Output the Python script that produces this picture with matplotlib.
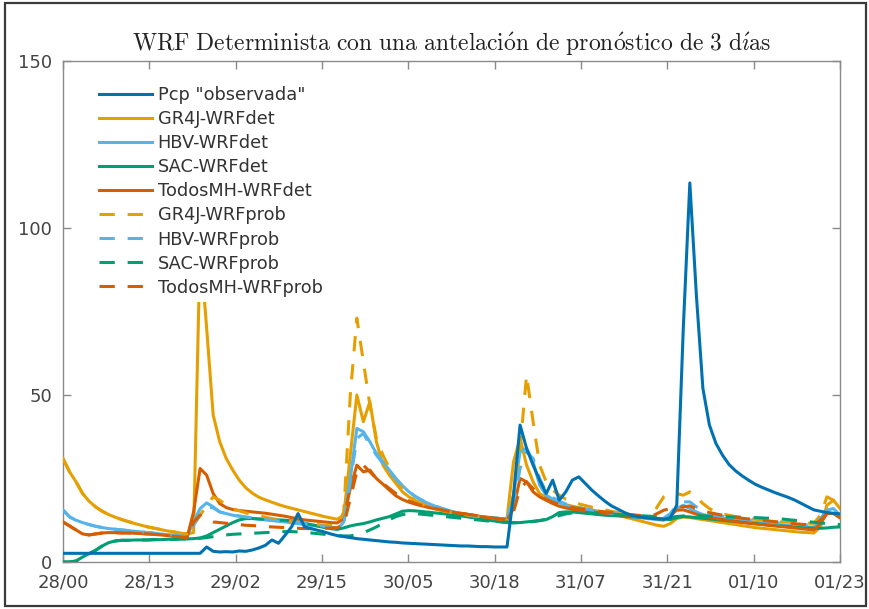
import numpy as np
import matplotlib
matplotlib.use("Agg")
import matplotlib.pyplot as plt
from matplotlib.patches import Rectangle

plt.rcParams["mathtext.fontset"] = "cm"

# ---- data: hourly discharge (m3/s), 28/00 .. 01/23 ----
tick_labels = ["28/00", "28/13", "29/02", "29/15", "30/05",
               "30/18", "31/07", "31/21", "01/10", "01/23"]

pcp_obs = [
    2.6, 2.6, 2.6, 2.6, 2.6, 2.6, 2.6, 2.6, 2.6, 2.6,
    2.6, 2.6, 2.6, 2.6, 2.6, 2.6, 2.6, 2.6, 2.6, 2.6,
    2.6, 2.6, 4.5, 3.2, 3.0, 3.1, 3.0, 3.3, 3.2, 3.6,
    4.2, 5.0, 6.6, 5.6, 8.0, 10.5, 14.5, 10.5, 10.0, 9.5,
    9.0, 8.4, 7.9, 7.6, 7.3, 7.0, 6.8, 6.6, 6.4, 6.2,
    6.0, 5.9, 5.7, 5.6, 5.5, 5.4, 5.3, 5.2, 5.1, 5.0,
    4.9, 4.8, 4.8, 4.7, 4.6, 4.6, 4.5, 4.5, 4.5, 20.0,
    41.0, 34.0, 29.0, 24.5, 20.5, 24.5, 18.5, 21.0, 24.5, 25.5,
    23.5, 21.5, 19.8, 18.2, 16.8, 15.8, 14.8, 14.0, 13.6, 13.3,
    13.1, 12.9, 12.8, 13.2, 17.0, 70.0, 113.5, 80.0, 52.0, 41.0,
    35.5, 32.0, 29.2, 27.3, 25.8, 24.5, 23.3, 22.4, 21.6, 20.8,
    20.1, 19.4, 18.6, 17.6, 16.6, 15.6, 15.2, 14.8, 14.6, 14.4,
]

gr4j_det = [
    31.0, 27.0, 24.0, 20.5, 18.2, 16.5, 15.2, 14.2, 13.4, 12.7,
    12.1, 11.5, 11.0, 10.5, 10.1, 9.7, 9.3, 9.0, 8.6, 8.4,
    8.8, 95.0, 70.0, 44.0, 36.0, 31.0, 27.5, 24.5, 22.2, 20.6,
    19.4, 18.6, 17.9, 17.2, 16.6, 16.1, 15.6, 15.1, 14.6, 14.1,
    13.6, 13.2, 12.8, 14.0, 32.0, 50.0, 42.0, 48.0, 36.0, 29.0,
    26.0, 23.5, 21.0, 19.5, 18.3, 17.5, 16.9, 16.3, 15.8, 15.3,
    14.9, 14.6, 14.2, 13.9, 13.6, 13.4, 13.2, 13.0, 13.0, 30.0,
    37.0, 29.0, 24.0, 20.5, 19.2, 18.5, 17.8, 17.2, 16.7, 16.3,
    15.9, 15.6, 15.2, 14.9, 14.6, 14.0, 13.5, 13.0, 12.5, 12.0,
    11.5, 11.0, 10.7, 11.5, 13.0, 13.5, 13.3, 13.0, 12.7, 12.4,
    12.1, 11.8, 11.5, 11.2, 10.9, 10.6, 10.3, 10.1, 9.9, 9.7,
    9.5, 9.3, 9.1, 8.9, 8.8, 8.7, 10.5, 17.0, 18.5, 16.0,
]

hbv_det = [
    15.6, 13.5, 12.5, 11.8, 11.2, 10.7, 10.3, 10.0, 9.8, 9.6,
    9.4, 9.2, 9.0, 8.8, 8.6, 8.4, 8.2, 8.0, 7.8, 7.6,
    12.0, 16.0, 17.7, 16.5, 15.0, 14.5, 14.0, 13.7, 13.4, 13.1,
    12.8, 12.6, 12.4, 12.2, 12.0, 11.7, 11.5, 11.2, 11.0, 10.7,
    10.4, 10.1, 9.8, 12.0, 25.0, 40.0, 39.0, 36.0, 32.5, 30.0,
    27.5, 25.0, 22.8, 21.0, 19.5, 18.4, 17.5, 16.7, 16.0, 15.4,
    14.9, 14.5, 14.1, 13.8, 13.6, 13.4, 13.2, 13.0, 12.9, 20.0,
    33.0, 34.0, 30.0, 23.0, 20.0, 18.8, 17.8, 17.0, 16.4, 15.9,
    15.5, 15.2, 14.9, 14.6, 14.3, 14.0, 13.8, 13.5, 13.3, 13.1,
    12.9, 12.7, 12.5, 13.5, 16.0, 17.0, 16.0, 15.0, 14.2, 13.8,
    13.5, 13.2, 12.9, 12.6, 12.4, 12.1, 11.9, 11.7, 11.5, 11.3,
    11.1, 10.9, 10.8, 10.6, 10.5, 10.5, 12.5, 15.5, 16.0, 14.0,
]

sac_det = [
    0.0, 0.0, 0.3, 1.5, 2.5, 3.5, 4.8, 5.8, 6.3, 6.5,
    6.5, 6.6, 6.6, 6.6, 6.7, 6.7, 6.8, 6.8, 6.9, 6.9,
    7.0, 7.2, 7.8, 8.8, 9.8, 10.8, 11.8, 12.6, 13.0, 13.0,
    12.9, 12.8, 12.7, 12.6, 12.5, 12.3, 12.0, 11.6, 11.2, 10.8,
    10.4, 10.0, 9.8, 10.2, 10.8, 11.2, 11.5, 12.0, 12.6, 13.1,
    13.6, 14.4, 15.2, 15.4, 15.3, 15.1, 14.9, 14.7, 14.5, 14.3,
    14.0, 13.8, 13.5, 13.2, 12.9, 12.6, 12.3, 12.0, 11.8, 11.7,
    11.8, 12.0, 12.2, 12.4, 12.7, 13.6, 14.8, 15.0, 15.0, 14.8,
    14.6, 14.4, 14.2, 14.0, 13.9, 13.8, 13.7, 13.6, 13.5, 13.4,
    13.3, 13.1, 12.9, 12.7, 13.3, 13.6, 13.5, 13.3, 13.1, 12.9,
    12.7, 12.5, 12.3, 12.1, 11.9, 11.7, 11.5, 11.3, 11.1, 10.9,
    10.8, 10.6, 10.5, 10.3, 10.2, 10.1, 10.1, 10.2, 10.4, 10.5,
]

todos_det = [
    12.0, 10.8, 9.6, 8.4, 8.1, 8.4, 8.7, 8.8, 8.8, 8.7,
    8.7, 8.6, 8.5, 8.4, 8.3, 8.1, 7.9, 7.7, 7.5, 7.3,
    15.0, 28.0, 26.0, 20.5, 17.5, 16.3, 15.7, 15.4, 15.2, 15.0,
    14.8, 14.6, 14.3, 14.0, 13.7, 13.3, 12.9, 12.6, 12.4, 12.2,
    12.0, 11.8, 11.7, 13.0, 22.0, 29.0, 27.0, 27.5, 25.0, 23.3,
    21.5, 19.8, 18.7, 17.9, 17.3, 16.8, 16.3, 15.9, 15.5, 15.1,
    14.8, 14.5, 14.2, 13.9, 13.6, 13.3, 13.0, 12.7, 12.5, 16.0,
    25.0, 24.0, 21.0, 19.5, 18.5, 17.5, 16.7, 16.2, 15.8, 15.5,
    15.2, 15.0, 14.8, 14.6, 14.4, 14.2, 14.0, 13.8, 13.6, 13.4,
    13.2, 13.0, 12.8, 14.0, 15.5, 15.6, 15.0, 14.3, 13.8, 13.4,
    13.0, 12.7, 12.4, 12.1, 11.9, 11.6, 11.4, 11.2, 11.0, 10.8,
    10.6, 10.4, 10.2, 10.0, 9.8, 9.6, 11.5, 14.5, 14.5, 13.2,
]

gr4j_prob = [
    31.0, 27.0, 24.0, 20.5, 18.2, 16.5, 15.2, 14.2, 13.4, 12.7,
    12.1, 11.5, 11.0, 10.5, 10.1, 9.7, 9.3, 9.0, 8.6, 8.4,
    11.0, 14.0, 17.0, 19.5, 18.5, 17.0, 16.0, 15.3, 14.7, 14.2,
    13.8, 13.4, 13.0, 12.7, 12.4, 12.1, 11.9, 11.6, 11.4, 11.2,
    11.0, 10.9, 10.8, 15.0, 50.0, 73.0, 60.0, 47.0, 37.0, 32.0,
    28.0, 24.5, 21.8, 19.8, 18.3, 17.3, 16.5, 15.9, 15.4, 15.0,
    14.6, 14.3, 14.0, 13.7, 13.5, 13.3, 13.1, 12.9, 12.8, 20.0,
    34.0, 56.0, 42.0, 29.0, 24.0, 21.5, 20.0, 18.8, 18.0, 17.4,
    16.9, 16.4, 16.0, 15.6, 15.2, 14.8, 14.4, 14.0, 13.7, 13.4,
    13.2, 16.5, 19.5, 20.5, 20.5, 20.0, 21.0, 19.5, 17.5, 16.0,
    15.0, 14.4, 14.0, 13.6, 13.3, 13.0, 12.8, 12.6, 12.4, 12.2,
    12.0, 11.9, 11.8, 11.7, 11.6, 11.6, 14.0, 19.5, 18.5, 15.5,
]

hbv_prob = [
    15.6, 13.5, 12.5, 11.8, 11.2, 10.7, 10.3, 10.0, 9.8, 9.6,
    9.4, 9.2, 9.0, 8.8, 8.6, 8.4, 8.2, 8.0, 7.8, 7.6,
    11.0, 14.5, 16.5, 16.2, 15.0, 14.5, 14.1, 13.8, 13.5, 13.2,
    12.9, 12.7, 12.5, 12.3, 12.1, 11.9, 11.7, 11.5, 11.2, 11.0,
    10.7, 10.4, 10.1, 11.5, 24.0, 37.0, 38.5, 35.0, 32.0, 29.5,
    27.0, 24.8, 22.8, 21.0, 19.6, 18.5, 17.6, 16.8, 16.1, 15.5,
    15.0, 14.6, 14.2, 13.9, 13.6, 13.4, 13.2, 13.0, 12.9, 17.0,
    28.0, 33.0, 31.0, 25.0, 21.0, 19.3, 18.2, 17.4, 16.8, 16.3,
    15.9, 15.5, 15.2, 14.9, 14.6, 14.3, 14.1, 13.9, 13.7, 13.5,
    13.3, 13.2, 13.1, 14.5, 17.0, 18.0, 18.0, 16.5, 15.3, 14.6,
    14.1, 13.7, 13.4, 13.1, 12.9, 12.6, 12.4, 12.2, 12.0, 11.8,
    11.6, 11.5, 11.3, 11.2, 11.1, 11.0, 13.0, 15.5, 15.8, 14.5,
]

sac_prob = [
    0.0, 0.0, 0.3, 1.5, 2.5, 3.5, 4.8, 5.8, 6.3, 6.5,
    6.5, 6.6, 6.6, 6.6, 6.7, 6.7, 6.8, 6.8, 6.9, 6.9,
    7.0, 7.1, 7.3, 7.6, 7.9, 8.1, 8.3, 8.4, 8.5, 8.6,
    8.7, 8.8, 8.9, 9.0, 9.1, 9.1, 9.0, 8.9, 8.7, 8.5,
    8.3, 8.1, 7.9, 7.8, 7.8, 8.2, 8.8, 9.6, 10.5, 11.6,
    12.7, 13.6, 14.2, 14.5, 14.5, 14.3, 14.1, 13.9, 13.7, 13.5,
    13.3, 13.1, 12.9, 12.7, 12.5, 12.3, 12.1, 12.0, 11.9, 11.8,
    11.8, 11.9, 12.1, 12.4, 12.8, 13.3, 13.9, 14.4, 14.7, 14.8,
    14.7, 14.6, 14.5, 14.4, 14.3, 14.2, 14.1, 14.0, 13.9, 13.8,
    13.7, 13.6, 13.5, 13.4, 13.6, 13.8, 13.9, 13.9, 13.8, 13.7,
    13.6, 13.5, 13.5, 13.4, 13.4, 13.3, 13.3, 13.2, 13.1, 13.0,
    12.9, 12.7, 12.5, 12.3, 12.1, 11.9, 11.7, 11.5, 11.3, 11.2,
]

todos_prob = [
    12.0, 10.8, 9.6, 8.4, 8.1, 8.4, 8.7, 8.8, 8.8, 8.7,
    8.7, 8.6, 8.5, 8.4, 8.3, 8.1, 7.9, 7.7, 7.5, 7.3,
    12.0, 14.0, 13.0, 12.0, 11.8, 11.6, 11.4, 11.2, 11.0, 10.9,
    10.8, 10.6, 10.5, 10.4, 10.3, 10.2, 10.1, 10.0, 10.0, 10.0,
    10.1, 10.2, 10.3, 11.0, 19.0, 27.0, 29.0, 27.0, 25.0, 23.5,
    22.0, 20.5, 19.3, 18.3, 17.5, 16.9, 16.4, 16.0, 15.6, 15.2,
    14.9, 14.6, 14.3, 14.0, 13.7, 13.4, 13.1, 12.9, 12.7, 15.0,
    22.0, 24.0, 22.0, 20.0, 18.8, 17.9, 17.2, 16.7, 16.3, 16.0,
    15.7, 15.4, 15.2, 15.0, 14.8, 14.6, 14.4, 14.2, 14.0, 13.8,
    13.6, 14.5, 15.5, 16.0, 16.5, 16.5, 16.8, 16.0, 15.3, 14.8,
    14.4, 14.0, 13.7, 13.4, 13.1, 12.9, 12.7, 12.5, 12.3, 12.1,
    11.9, 11.7, 11.5, 11.3, 11.2, 11.2, 12.5, 14.5, 15.0, 13.8,
]

hours = np.arange(len(pcp_obs))

C_BLUE = "#0072B2"
C_GOLD = "#E69F00"
C_SKY = "#56B4E9"
C_GREEN = "#009E73"
C_RED = "#D55E00"

fig = plt.figure(figsize=(8.69, 6.09), dpi=100)
ax = fig.add_axes([63 / 869, 1 - 562 / 609, (840 - 63) / 869, (562 - 61) / 609])

lw = 2.2
dash = (0, (5.0, 4.2))
series = [
    (pcp_obs, C_BLUE, "-", 'Pcp "observada"', 5),
    (gr4j_det, C_GOLD, "-", "GR4J-WRFdet", 3),
    (hbv_det, C_SKY, "-", "HBV-WRFdet", 3),
    (sac_det, C_GREEN, "-", "SAC-WRFdet", 3),
    (todos_det, C_RED, "-", "TodosMH-WRFdet", 3),
    (gr4j_prob, C_GOLD, dash, "GR4J-WRFprob", 4),
    (hbv_prob, C_SKY, dash, "HBV-WRFprob", 4),
    (sac_prob, C_GREEN, dash, "SAC-WRFprob", 4),
    (todos_prob, C_RED, dash, "TodosMH-WRFprob", 4),
]
for vals, col, ls, lab, z in series:
    ax.plot(hours, vals, color=col, linestyle=ls, linewidth=lw, label=lab,
            zorder=z, solid_joinstyle="round", dash_capstyle="butt")

ax.set_xlim(0, hours[-1])
ax.set_ylim(0, 150)
ax.set_yticks([0, 50, 100, 150])
ax.set_xticks(np.linspace(0, hours[-1], len(tick_labels)))
ax.set_xticklabels(tick_labels)

spine_col = "#8a8a8a"
for s in ax.spines.values():
    s.set_color(spine_col)
    s.set_linewidth(1.0)
ax.tick_params(direction="in", length=6, width=1.0, color=spine_col,
               labelcolor="#444444", labelsize=13, top=True, right=True)
ax.tick_params(axis="x", pad=8)
ax.tick_params(axis="y", pad=8)

ax.set_title(r"$\mathrm{WRF\ Determinista\ con\ una\ antelaci\acute{o}n\ de\ "
             r"pron\acute{o}stico\ de\ 3\ d\acute{\imath}as}$",
             fontsize=17, color="#222222", pad=7)

leg = ax.legend(loc="upper left", bbox_to_anchor=(0.028, 0.978),
                fontsize=12.8, frameon=True, facecolor="white",
                edgecolor="none", framealpha=1.0, fancybox=False,
                handlelength=3.0, handletextpad=0.3, labelspacing=0.34,
                borderpad=0.3)
leg.set_zorder(10)
for t in leg.get_texts():
    t.set_color("#333333")

fig.add_artist(Rectangle((5 / 869, 1 - 606 / 609), 861 / 869, 603 / 609,
                         transform=fig.transFigure, fill=False,
                         edgecolor="#3a3a3a", linewidth=1.6))

fig.savefig("out.png", dpi=100)
